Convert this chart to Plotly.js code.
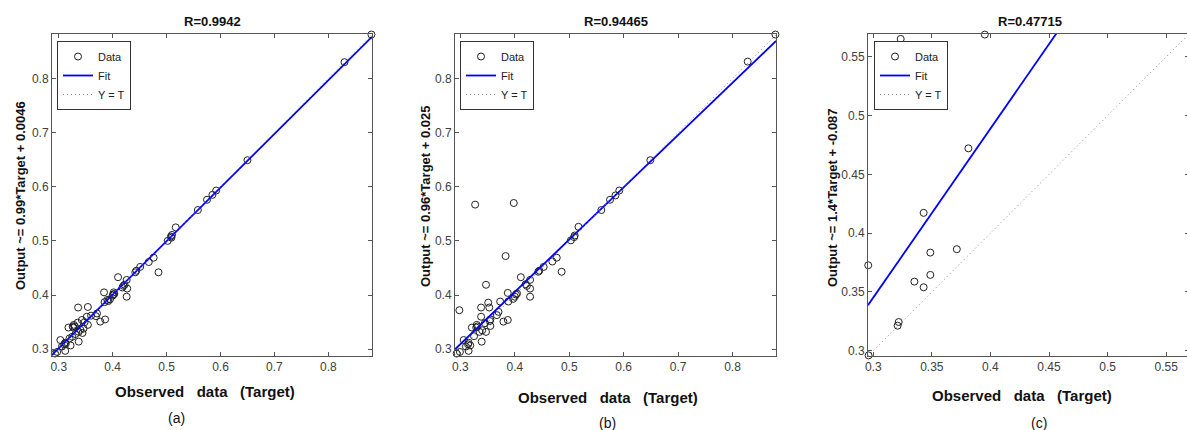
<!DOCTYPE html>
<html>
<head>
<meta charset="utf-8">
<script src="https://cdn.plot.ly/plotly-3.0.1.min.js"></script>
<style>
  html, body { margin: 0; padding: 0; overflow: hidden; background: #fff; }
  #chart { width: 1192px; height: 430px; }
</style>
</head>
<body>
<div id="chart"></div>
<script>
// ---------------- data ----------------
const panelTitles = ["R=0.9942", "R=0.94465", "R=0.47715"];
const yTitles = ["Output ~= 0.99*Target + 0.0046", "Output ~= 0.96*Target + 0.025", "Output ~= 1.4*Target + -0.087"];
const xTitle = "Observed\u00a0\u00a0 data\u00a0\u00a0 (Target)";
const panelLabels = ["(a)", "(b)", "(c)"];
const legendNames = ["Data", "Fit", "Y = T"];

const targetA = [0.880,0.830,0.650,0.592,0.585,0.575,0.558,0.517,0.510,0.508,0.509,0.502,0.476,0.467,0.485,0.451,0.444,0.442,0.426,0.410,0.420,0.418,0.422,0.427,0.426,0.402,0.403,0.400,0.401,0.384,0.395,0.392,0.386,0.377,0.369,0.371,0.354,0.336,0.352,0.354,0.346,0.343,0.335,0.328,0.326,0.330,0.327,0.318,0.337,0.344,0.337,0.312,0.310,0.313,0.322,0.303,0.312,0.297,0.293,0.288,0.331,0.325,0.340,0.320,0.306,0.385,0.390,0.360,0.348];
const outputA = [0.881,0.830,0.649,0.593,0.585,0.576,0.557,0.525,0.511,0.508,0.506,0.500,0.469,0.461,0.442,0.452,0.445,0.442,0.428,0.433,0.417,0.414,0.419,0.412,0.397,0.405,0.402,0.399,0.401,0.405,0.392,0.389,0.355,0.351,0.361,0.366,0.378,0.377,0.360,0.345,0.338,0.354,0.349,0.345,0.342,0.342,0.340,0.340,0.332,0.330,0.314,0.312,0.309,0.310,0.307,0.317,0.297,0.295,0.292,0.287,0.328,0.323,0.336,0.320,0.305,0.387,0.391,0.362,0.350];

const targetB = [0.879,0.828,0.649,0.592,0.585,0.575,0.559,0.517,0.510,0.509,0.503,0.477,0.469,0.486,0.453,0.445,0.443,0.327,0.398,0.383,0.347,0.298,0.411,0.428,0.422,0.420,0.428,0.428,0.404,0.402,0.400,0.387,0.397,0.388,0.373,0.351,0.338,0.353,0.338,0.370,0.367,0.379,0.387,0.355,0.354,0.330,0.331,0.329,0.321,0.355,0.347,0.339,0.340,0.335,0.315,0.314,0.318,0.306,0.315,0.299,0.293,0.290,0.325,0.310,0.345];
const outputB = [0.881,0.831,0.649,0.593,0.584,0.576,0.557,0.526,0.510,0.507,0.501,0.469,0.462,0.443,0.452,0.445,0.443,0.567,0.570,0.472,0.419,0.372,0.433,0.428,0.417,0.420,0.412,0.397,0.403,0.401,0.397,0.404,0.393,0.388,0.388,0.386,0.377,0.377,0.360,0.369,0.363,0.351,0.354,0.355,0.352,0.345,0.342,0.340,0.340,0.343,0.332,0.314,0.335,0.332,0.312,0.309,0.307,0.317,0.297,0.295,0.292,0.287,0.324,0.305,0.348];

const targetC = [0.3234,0.3952,0.3812,0.3430,0.3713,0.3487,0.3487,0.3351,0.3430,0.2957,0.3217,0.3208,0.2960];
const outputC = [0.5653,0.5690,0.4722,0.4173,0.3864,0.3835,0.3645,0.3588,0.3540,0.3727,0.3244,0.3213,0.2960];

const fitSlopes = [0.99, 0.965, 1.438];
const fitIntercepts = [0.0046, 0.020, -0.0862];

const xRanges = [[0.2875, 0.881], [0.2900, 0.880], [0.2955, 0.5695]];
const yRanges = [[0.2875, 0.882], [0.2875, 0.882], [0.2955, 0.5695]];
const tickSteps = [0.1, 0.1, 0.05];
const tickStarts = [0.3, 0.3, 0.3];

// ---------------- layout geometry ----------------
const W = 1192, H = 430;
const px = v => v / W;
const py = v => 1 - v / H;
const xDomPx = [[52, 372], [455, 776], [868, 1189]];
const yDomPx = [34, 356];
const titlePos = [[212, 21], [616, 21], [1030, 21]];
const xTitlePos = [[204.5, 391], [608, 397.5], [1021.5, 395]];
const yTitlePos = [[21, 196], [425, 197], [832, 198]];
const labelPos = [[176, 418], [607, 423], [1039, 423]];
const legendPos = [[57, 41], [460, 41], [874, 41]];

const FONT = "Liberation Sans, Arial, sans-serif";
const targets = [targetA, targetB, targetC];
const outputs = [outputA, outputB, outputC];

const traces = [];
const layout = {
  width: W, height: H,
  margin: {l: 0, r: 0, t: 0, b: 0},
  paper_bgcolor: "#fff", plot_bgcolor: "#fff",
  font: {family: FONT, size: 12, color: "#333"},
  showlegend: true,
  annotations: []
};

for (let i = 0; i < 3; i++) {
  const sfx = i === 0 ? "" : String(i + 1);
  const xa = "x" + sfx, ya = "y" + sfx;
  const leg = "legend" + sfx;
  const xr = xRanges[i];

  traces.push({
    x: targets[i], y: outputs[i], xaxis: xa, yaxis: ya, legend: leg,
    type: "scatter", mode: "markers", name: legendNames[0], cliponaxis: false,
    marker: {symbol: "circle-open", size: 7, color: "#222", line: {width: 1, color: "#222"}},
    hoverinfo: "x+y"
  });
  traces.push({
    x: xr, y: xr.map(t => fitSlopes[i] * t + fitIntercepts[i]), xaxis: xa, yaxis: ya, legend: leg,
    type: "scatter", mode: "lines", name: legendNames[1],
    line: {color: "#0000ff", width: 1.8}
  });
  traces.push({
    x: xr, y: xr, xaxis: xa, yaxis: ya, legend: leg,
    type: "scatter", mode: "lines", name: legendNames[2],
    line: {color: "#888", width: 1, dash: "1px,3px"}
  });

  const axCommon = {
    showline: true, linecolor: "#555", linewidth: 1, mirror: "allticks",
    ticks: "inside", ticklen: 4, tickwidth: 1, tickcolor: "#555",
    showgrid: false, zeroline: false, fixedrange: true,
    tickfont: {family: FONT, size: 12, color: "#404040"},
    tick0: tickStarts[i], dtick: tickSteps[i]
  };
  layout["xaxis" + sfx] = Object.assign({}, axCommon, {
    domain: [px(xDomPx[i][0]), px(xDomPx[i][1])], range: xRanges[i], anchor: ya
  });
  layout["yaxis" + sfx] = Object.assign({}, axCommon, {
    domain: [py(yDomPx[1]), py(yDomPx[0])], range: yRanges[i], anchor: xa
  });
  layout[leg] = {
    x: px(legendPos[i][0]), y: py(legendPos[i][1]), xanchor: "left", yanchor: "top",
    xref: "paper", yref: "paper",
    bgcolor: "#fff", bordercolor: "#333", borderwidth: 1,
    font: {family: FONT, size: 11, color: "#222"}, tracegroupgap: 0
  };

  const ann = (pos, text, size, angle) => ({
    xref: "paper", yref: "paper", x: px(pos[0]), y: py(pos[1]),
    xanchor: "center", yanchor: "middle", showarrow: false,
    text: text, textangle: angle || 0,
    font: {family: FONT, size: size, color: "#111"}
  });
  layout.annotations.push(ann(titlePos[i], "<b>" + panelTitles[i] + "</b>", 13));
  layout.annotations.push(ann(xTitlePos[i], "<b>" + xTitle + "</b>", 15));
  layout.annotations.push(ann(yTitlePos[i], "<b>" + yTitles[i] + "</b>", 13, -90));
  layout.annotations.push(ann(labelPos[i], panelLabels[i], 14));
}

Plotly.newPlot("chart", traces, layout, {displayModeBar: false, staticPlot: true});
</script>
</body>
</html>
